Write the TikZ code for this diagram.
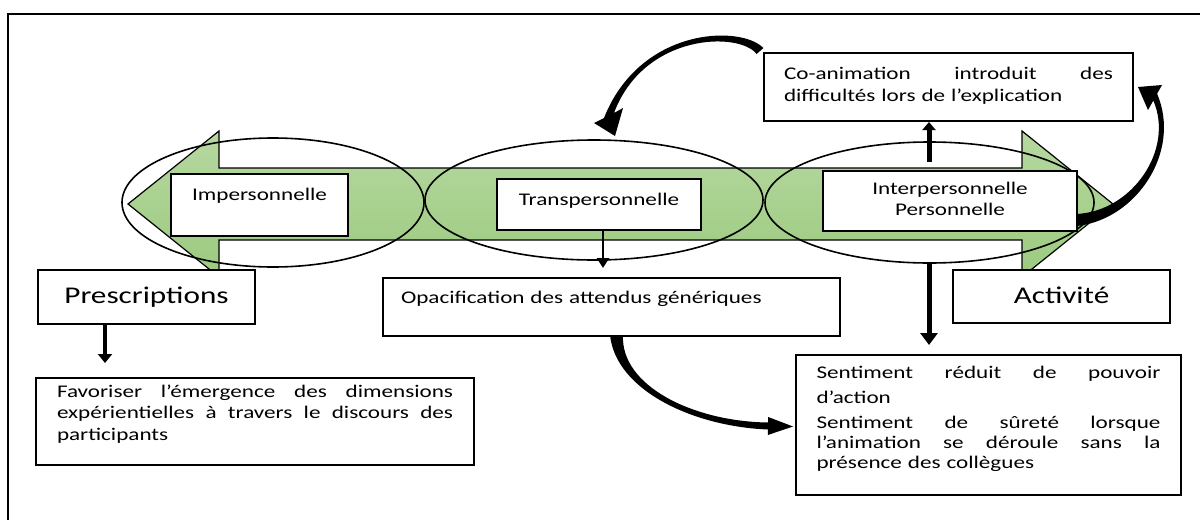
\documentclass[tikz,border=0pt]{standalone}
\usepackage{fontspec}
\setmainfont{Carlito}[FakeStretch=1.3]
\usetikzlibrary{shapes.geometric,arrows.meta}
\definecolor{grtop}{RGB}{182,216,160}
\definecolor{grbot}{RGB}{156,202,128}
\newcommand\tx{\fontsize{8.9pt}{10.8pt}\selectfont}
\newcommand\bigtx{\fontsize{12pt}{14pt}\selectfont}
\newcommand\jline[2]{\leavevmode\hbox to #1{#2}}
\begin{document}
\begin{tikzpicture}[x=0.5pt,y=-0.5pt,
  bx/.style={draw, fill=white, line width=1pt, inner sep=0pt, anchor=north west, font=\tx},
  ell/.style={ellipse, draw, line width=0.8pt, inner sep=0pt},
  curv/.style={fill=black}
]
\useasboundingbox (0,0) rectangle (1200,520);
% outer frame
\draw[line width=1pt] (8,520) -- (8,14) -- (1200,14);
% double green arrow
\path[draw, line width=0.6pt, top color=grtop, bottom color=grbot]
  (128,204) -- (219,131) -- (219,168) -- (1022,168) -- (1022,131) -- (1113,204)
  -- (1022,277) -- (1022,240) -- (219,240) -- (219,277) -- cycle;
% ellipses
\node[ell, minimum width=151pt, minimum height=64.5pt] (e1) at (273,202.5) {};
\node[ell, minimum width=169pt, minimum height=60pt] (e2) at (594,200) {};
\node[ell, minimum width=164.5pt, minimum height=60.5pt] (e3) at (929.5,202.5) {};
% boxes
\node[bx, text width=88.5pt, align=center, text height=13pt, text depth=18pt] (imp) at (170,173) {Impersonnelle};
\node[bx, text width=102pt, align=center, text height=13pt, text depth=12.5pt] (trans) at (496,178) {Transpersonnelle};
\node[bx, text width=127pt, align=center, text height=11.5pt, text depth=18.5pt] (inter) at (822,170) {Interpersonnelle\\Personnelle};
\node[bx, minimum width=184.5pt, text width=164.5pt, align=left, text height=13.25pt, text depth=20.75pt] (coan) at (763,52)
  {\jline{164.5pt}{Co-animation \hfill introduit \hfill des}\\difficultés lors de l’explication};
\node[bx, font=\bigtx, text width=108.5pt, align=center, text height=16.5pt, text depth=10.5pt] (presc) at (37,269) {Prescriptions};
\node[bx, font=\bigtx, text width=108.5pt, align=center, text height=16.5pt, text depth=10pt] (act) at (952,269) {Activité\hspace*{4pt}};
\node[bx, minimum width=228.5pt, text width=210.5pt, align=left, text height=12.5pt, text depth=16.5pt] (opac) at (382,277)
  {Opacification des attendus génériques};
\node[bx, minimum width=219pt, text width=198pt, align=left, text height=9.5pt, text depth=34pt] (fav) at (35,377)
  {\jline{198pt}{Favoriser \hfill l’émergence \hfill des \hfill dimensions}\\
   \jline{198pt}{expérientielles \hfill à \hfill travers \hfill le \hfill discours \hfill des}\\
   participants};
\node[bx, minimum width=192.5pt, text width=172pt, align=left, text height=11.85pt, text depth=58.15pt] (sent) at (795,354)
  {\jline{172pt}{Sentiment \hfill réduit \hfill de \hfill pouvoir}\\[1.6pt]
   d’action\\[1.6pt]
   \jline{172pt}{Sentiment \hfill de \hfill sûreté \hfill lorsque}\\[-0.7pt]
   \jline{172pt}{l’animation \hfill se \hfill déroule \hfill sans \hfill la}\\[-0.7pt]
   présence des collègues};
% straight arrows
\coordinate (pt1) at (105,363);
\draw[line width=1.8pt, -{Triangle[width=7pt,length=4.5pt]}] (pt1 |- presc.south) -- (pt1);
\coordinate (pt2) at (603,268);
\draw[line width=1.3pt, -{Triangle[width=6pt,length=5pt]}] (pt2 |- trans.south) -- (pt2);
\coordinate (pt3) at (929,162);
\draw[line width=2.5pt, -{Triangle[width=6.5pt,length=4pt]}] (pt3) -- (pt3 |- coan.south);
\coordinate (pt4) at (929,345);
\draw[line width=2.5pt, -{Triangle[width=8.5pt,length=6pt]}] (pt4 |- e3.south) -- (pt4);
% curved arrows
\fill[curv] (763.4,48) .. controls (740.6,24.6) and (640,27.1) .. (604,118) -- (594,123) -- (615,136) -- (623,108)
  -- (614,113) .. controls (644,32.9) and (739.4,31.4) .. (756.6,54) -- cycle;
\fill[curv] (1077.5,226) .. controls (1137.6,218.7) and (1181.5,150.6) .. (1157.1,93.75) -- (1162,85) -- (1138,87) -- (1148,110)
  -- (1153.3,100.5) .. controls (1174.5,149.4) and (1132.4,211.3) .. (1076.5,214) -- cycle;
\fill[curv] (610,335) .. controls (615.7,390) and (692.4,426.4) .. (767.9,429.5) -- (767.8,435) -- (793,426.5) -- (768.2,417)
  -- (768.1,422.5) .. controls (693.6,421.6) and (620.3,386) .. (623,335) -- cycle;
\end{tikzpicture}
\end{document}
